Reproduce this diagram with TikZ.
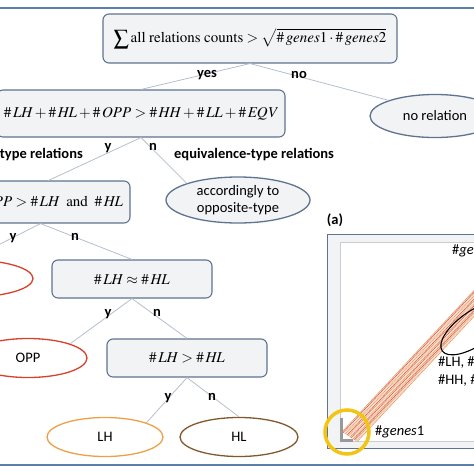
\documentclass[tikz,border=0pt]{standalone}
\usepackage{mathptmx}
\usepackage[no-math]{fontspec}
\setmainfont{Carlito}
\usetikzlibrary{shapes.geometric}

\tikzset{
  cond/.style={draw=boxline, fill=boxfill, rounded corners=6pt, line width=1.1pt, inner sep=0pt,
    font=\fontsize{15}{18}\selectfont},
  leaf/.style={ellipse, line width=1.3pt, inner sep=0pt, align=center,
    font=\fontsize{14.5}{17}\selectfont},
  conn/.style={draw=connline, line width=0.8pt},
  lab/.style={font=\bfseries\fontsize{14.5}{16}\selectfont, inner sep=0pt},
  rule/.style={draw=ruleline, line width=1.4pt}
}

\begin{document}
\begin{tikzpicture}[x=1pt,y=-1pt]
    % Define colors
    \definecolor{boxline}{RGB}{95,115,145}
    \definecolor{boxfill}{RGB}{242,243,245}
    \definecolor{connline}{RGB}{180,191,204}
    \definecolor{ruleline}{RGB}{91,127,173}
    \definecolor{oppred}{RGB}{215,64,43}
    \definecolor{lhorange}{RGB}{238,160,70}
    \definecolor{hlbrown}{RGB}{130,88,45}
    \definecolor{hitA}{RGB}{232,150,100}
    \definecolor{hitB}{RGB}{215,85,70}
    \definecolor{hitC}{RGB}{240,200,160}
    \definecolor{ringyellow}{RGB}{242,196,20}

    \useasboundingbox (0,0) rectangle (474,474);
    \clip (0,0) rectangle (474,474);

    % Rules at top and bottom
    \draw[rule] (0,8) -- (474,8);
    \draw[rule] (0,465) -- (474,465);

    % Decision boxes
    \node[cond, minimum width=294pt, minimum height=49pt] (root) at (250,38.5)
      {$\displaystyle\sum \mathrm{all\ relations\ counts} > \sqrt{\#\,\mathit{genes}1\cdot\#\,\mathit{genes}2}$};
    \node[cond, minimum width=288pt, minimum height=47pt] (sumopp) at (141,113.5)
      {$\#\,\mathit{LH}+\#\,\mathit{HL}+\#\,\mathit{OPP}>\#\,\mathit{HH}+\#\,\mathit{LL}+\#\,\mathit{EQV}$};
    \node[cond, minimum width=163pt, minimum height=42pt] (oppmax) at (48.5,202)
      {$\#\,\mathit{OPP}>\#\,\mathit{LH}\ \ \mathrm{and}\ \ \#\,\mathit{HL}$};
    \node[cond, minimum width=160pt, minimum height=38pt] (lhhl) at (132,279)
      {$\#\,\mathit{LH}\approx\#\,\mathit{HL}$};
    \node[cond, minimum width=160pt, minimum height=38pt] (lhgt) at (187,358)
      {$\#\,\mathit{LH}>\#\,\mathit{HL}$};

    % Outcomes
    \node[leaf, draw=boxline, fill=boxfill, minimum width=130pt, minimum height=43pt] (norel) at (435,116) {no relation};
    \node[leaf, draw=boxline, fill=boxfill, minimum width=144pt, minimum height=46pt] (accord) at (238,200) {accordingly to\\opposite-type};
    \node[leaf, draw=oppred, fill=white, minimum width=126pt, minimum height=37pt] (oppA) at (-30,278.5) {};
    \node[leaf, draw=oppred, fill=white, minimum width=118pt, minimum height=39pt] (oppB) at (28,358) {OPP};
    \node[leaf, draw=lhorange, fill=white, minimum width=116pt, minimum height=39pt] (lh) at (105,437) {LH};
    \node[leaf, draw=hlbrown, fill=white, minimum width=118pt, minimum height=39pt] (hl) at (239,437) {HL};

    % Connectors
    \draw[conn] (root.south) -- (sumopp.north);
    \draw[conn] (root.south) -- (norel.north west);
    \draw[conn] (sumopp.south) -- (oppmax.north);
    \draw[conn] (sumopp.south) -- (accord.north west);
    \draw[conn] ([xshift=-8pt]oppmax.south) -- (oppA.north);
    \draw[conn] ([xshift=-8pt]oppmax.south) -- (lhhl.north);
    \draw[conn] (lhhl.south) -- (oppB.north east);
    \draw[conn] (lhhl.south) -- (lhgt.north);
    \draw[conn] (lhgt.south) -- (lh.north east);
    \draw[conn] (lhgt.south) -- (hl.north);

    % Branch labels
    \node[lab] (yes) at (207,75) {yes};
    \node[lab] (no) at (299,75) {no};
    \node[lab] (y1) at (108,148) {y};
    \node[lab] (n1) at (153,147) {n};
    \node[lab, anchor=east] (opptype) at (83,155) {opposite-type relations};
    \node[lab, anchor=west] (eqvtype) at (174,155) {equivalence-type relations};
    \node[lab] (y2) at (13,238) {y};
    \node[lab] (n2) at (75,237) {n};
    \node[lab] (y3) at (108,314) {y};
    \node[lab] (n3) at (157,313) {n};
    \node[lab] (y4) at (168,398) {y};
    \node[lab] (n4) at (212,397) {n};

    % Panel (a)
    \node[lab] (pa) at (335,220) {(a)};
    \draw[draw=boxline, fill=boxfill, line width=1pt] (327,234) rectangle (480,448);
    \draw[draw=black!20, fill=white, line width=0.8pt] (340,242) rectangle (480,441);
    \foreach \i/\c in {0/hitA,1/hitB,2/hitC,3/hitA,4/hitC,5/hitB,6/hitA,7/hitC,8/hitA,9/hitB,10/hitC,11/hitA,12/hitB,13/hitA,14/hitC,15/hitA}
      \draw[\c, line width=0.6pt] (342+1.0*\i,432+0.65*\i) -- ++(140,-150);
    \draw[black, line width=1.1pt, rotate around={35:(475,328)}] (475,328) ellipse [x radius=40, y radius=17];
    \node[font=\fontsize{14.5}{17}\selectfont, anchor=west, inner sep=0pt] (g2) at (452,251) {\#\textit{genes}2};
    \node[font=\fontsize{14.5}{17}\selectfont, anchor=west, inner sep=0pt] (cnt1) at (438,363) {\#LH, \#HL,};
    \node[font=\fontsize{14.5}{17}\selectfont, anchor=west, inner sep=0pt] (cnt2) at (438,381) {\#HH, \#LL,};
    \draw[ringyellow, line width=3.5pt] (347,432) circle [radius=22];
    \draw[black!40, line width=3pt] (341,418) -- (341,440) -- (353,440);
    \node[font=\fontsize{14.5}{17}\selectfont, anchor=west, inner sep=0pt] (g1) at (375,432) {\#\textit{genes}1};
\end{tikzpicture}
\end{document}
